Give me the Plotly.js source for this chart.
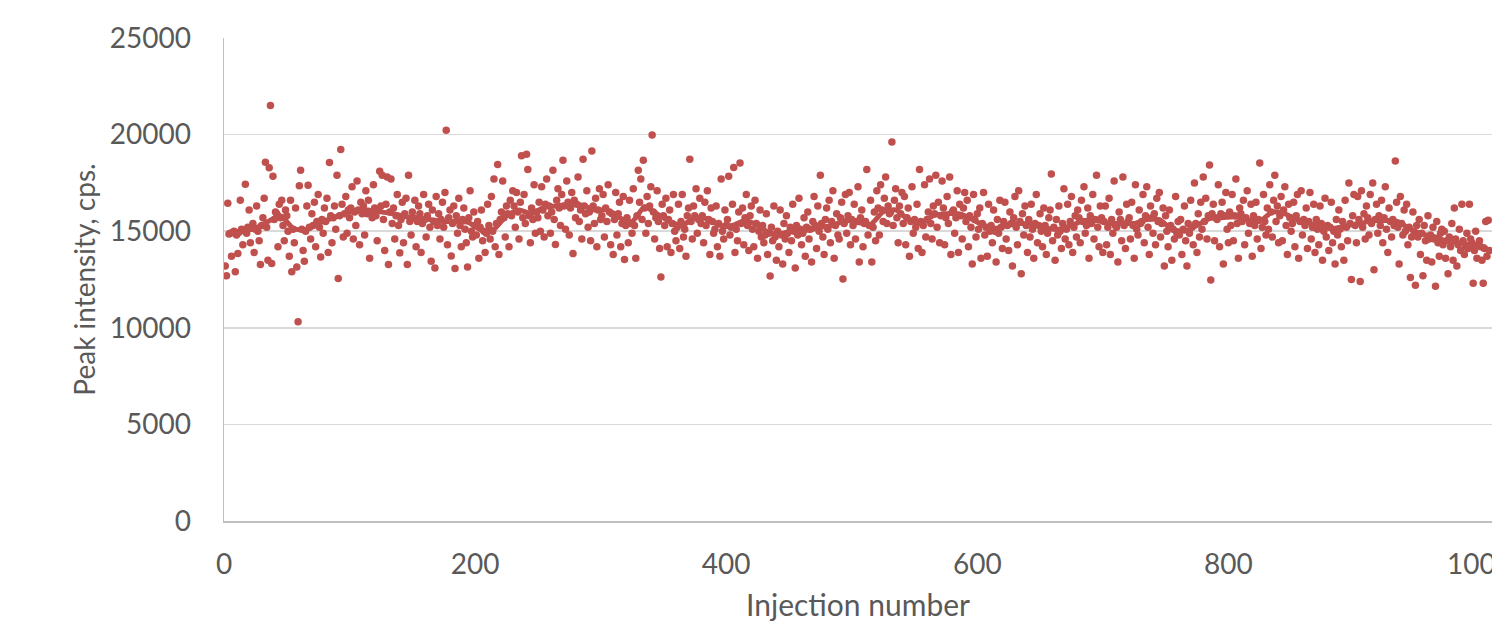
<!DOCTYPE html>
<html>
<head>
<meta charset="utf-8">
<script src="https://cdn.plot.ly/plotly-3.0.1.min.js"></script>
<style>html,body{margin:0;padding:0;background:#fff;overflow:hidden}#chart{width:1492px;height:622px}</style>
</head>
<body>
<div id="chart"></div>
<script>
// Peak intensity (cps) per injection, injections 1..N
const peakIntensity = [
13200,12690,16450,14850,14900,13700,14950,15000,12900,14800,
13850,14950,16600,15100,14300,15050,17430,14900,15200,16100,
14400,15200,15400,13900,15100,16300,15000,14500,13280,15300,
15700,16700,18570,15200,13500,18280,21500,13330,17850,15600,
16000,15900,14200,16400,15700,16600,15300,14500,16100,15800,
15000,13700,16600,12900,15100,14400,16200,13150,10310,17350,
18160,15100,14000,13450,15000,16300,17380,15200,14600,15900,
15300,16500,14200,15500,16900,15200,13670,15600,14900,16200,
15500,16700,13900,18550,15800,14400,15700,16300,15100,17900,
12550,15800,19230,16400,14700,15900,16800,14900,16100,15700,
16200,17300,14600,16000,15300,17600,16100,14300,16500,15900,
16300,14800,17100,15900,16600,13600,16000,15700,17400,16200,
15800,14500,16100,18100,16300,17900,15600,14000,16400,17800,
13280,16000,17700,15400,16200,14600,15800,16900,15300,13880,
15600,16500,14400,15900,16700,13280,17900,15500,14800,16000,
15700,16600,14200,15500,16300,15900,13900,15400,16900,15600,
14700,15800,16400,15200,13450,16100,15500,13100,16800,15300,
15900,14600,15600,16500,15200,17000,20230,14300,15700,16100,
13720,15400,16300,13070,15800,14900,16700,15300,14200,15600,
16200,15100,14400,13150,15700,17100,15000,14700,16000,15300,
14800,15500,13600,15200,16100,14500,15000,13900,14900,16400,
15300,14600,16800,15000,17700,14200,15400,18450,13800,15600,
16000,17600,15700,14700,16300,15900,14200,16600,15800,17100,
16300,15200,17000,16000,14600,16500,18900,15700,16900,15400,
18980,18190,15800,14400,16200,15600,17400,14900,16000,15700,
16500,15000,17300,16100,14700,16400,17700,15800,16300,14900,
16000,18160,15600,14310,16600,17200,16200,15300,16900,18670,
16300,15100,17600,16500,14800,16200,17000,13840,16600,15700,
16400,17800,15500,16100,14600,18720,16300,15900,17100,15200,
16000,14500,19150,16300,15400,16700,14200,16100,17200,15600,
15800,16900,14700,16200,15500,17400,16000,14300,15900,13790,
15600,17000,14800,15900,16500,14200,15400,16800,13530,15300,
15700,14400,16600,15400,14900,17200,15300,13600,15800,18160,
16500,17700,15600,18670,16200,14900,16800,15400,16300,17300,
19980,16000,14600,15700,17100,15500,14100,12630,16400,15800,
15300,16700,14200,15600,16100,13900,15400,16900,15000,14500,
15200,16400,14100,15500,16900,14700,15100,13700,15800,16200,
18720,15500,14600,16300,15800,17200,14900,15600,16700,15400,
15800,14400,16500,15300,17100,15600,13800,16200,15500,14900,
15100,16300,14200,15400,13700,17700,15000,14600,16100,15300,
15600,17850,14800,15200,16400,18300,13900,15100,14500,16000,
18530,15400,16200,14300,15700,16900,15300,14000,15800,16300,
15100,14200,16600,15400,13600,15000,16100,14700,15300,14400,
14800,15900,13800,14900,12680,15200,14500,16300,14700,13500,
15000,14200,16100,14800,13300,15400,14600,15800,14900,13900,
15200,14500,16400,15000,13100,15300,14800,16700,15100,14300,
14900,15700,13700,15200,16000,14600,15100,13400,15500,16800,
15300,14100,16300,15000,17900,15400,14700,13800,15600,16200,
15100,16600,14400,15500,17100,13600,15300,15900,14800,14600,
15700,16500,12530,15400,16900,14900,15800,17000,14300,15600,
15300,16400,14600,15500,17300,13400,15700,16100,14200,15400,
15500,18200,14800,15300,16600,13400,15200,16000,14500,17100,
16200,14800,17400,16100,15500,16700,17800,15400,16300,15900,
16000,19620,15300,16600,17200,15700,14400,16300,15900,17000,
15400,16800,14300,15700,16200,13700,15500,17300,14900,15600,
15200,16400,14100,18200,15500,13900,15300,17400,14700,15600,
16000,17700,15400,14600,16300,15900,17900,15200,16500,14400,
15800,17600,16200,14300,15700,16800,15400,17800,13800,16000,
16100,14900,15700,17100,13900,16400,15800,14600,16200,17000,
15500,16600,14200,15800,15200,13300,16900,15600,14700,15900,
15100,16200,13600,15400,17000,14800,15200,13700,16400,15000,
15300,14400,16100,15000,13400,15600,14900,16600,15200,14100,
15500,16500,14600,15300,14000,16000,15400,13200,15700,16800,
15200,14300,17100,15500,12800,15900,14800,16300,15300,13900,
15600,14700,16400,15100,13600,15400,16900,14400,15300,15900,
15000,14200,16200,15300,13800,14900,15700,16100,17960,14500,
15200,13500,15600,14800,16300,15000,14100,15400,17200,14600,
15100,16400,14300,15500,16800,13900,15200,15800,14700,16100,
15700,14400,16600,15500,17300,14900,15300,16200,13600,15800,
15400,16900,14600,15600,17900,15200,14200,16300,15700,13900,
15500,16300,14300,15200,16700,13800,15600,14900,17600,15300,
15200,13400,16000,15600,14500,17800,15300,14100,16400,15500,
15700,14600,16500,15300,13600,17400,15100,14800,16100,15400,
15500,16900,14400,15800,17300,15200,13800,16300,15700,14900,
15900,14300,16700,15500,17000,14700,15400,16200,13200,15800,
15000,14200,16100,15300,13500,15100,14600,16800,14900,15500,
14800,15600,13800,15100,16300,14500,13200,15400,14900,16600,
15200,14300,17500,15400,13900,15900,14700,16500,15100,17800,
15500,16700,14600,15800,18430,12470,15900,16400,14500,15700,
15600,17400,14200,15900,16500,13300,15800,17000,15100,14400,
16000,15300,16900,14500,15800,17700,15400,13600,16200,15900,
15500,16600,14300,15700,17100,14900,15400,16400,13700,15800,
15300,16500,14600,15600,18530,14100,15200,16900,15500,14800,
16200,15100,17400,16000,14700,16600,17900,15500,16300,14400,
15800,16800,14500,16100,17300,15300,13800,16400,15700,15000,
15400,16500,14200,15800,16900,13600,15500,17100,14800,15600,
15300,16200,14100,15500,17000,14600,15200,16400,13900,15600,
15100,14300,16300,15400,13500,15000,16700,14700,15300,14000,
15200,16500,14400,15000,13300,15600,14800,16100,15100,14200,
15500,13500,16600,15200,14500,17500,15400,12500,15800,16900,
15300,14400,16800,15600,12400,17100,15200,15900,14600,16300,
15700,14800,16900,15400,17500,13000,15600,16400,14900,15800,
15300,16600,14400,15700,17300,15100,13900,16200,15500,14700,
15600,15300,18630,16500,15200,13300,16800,15400,14800,16100,
15000,16400,14300,15200,12600,14700,16000,14900,12200,15300,
14700,15600,13800,14900,12700,15300,14500,13500,15800,14600,
14800,13400,15200,14600,12150,15500,14400,13700,14900,15100,
14300,15000,13600,14500,12800,14700,14200,15400,13500,16200,
14600,13200,14300,15100,14000,16400,14500,13800,14200,14900,
14100,16400,14600,14400,12300,14000,15000,13600,14300,14500,
14200,13500,12300,14100,15500,13700,15570,14000
];

// Moving-average trend, one value per 10 injections (centres 5, 15, ...)
const movingAverage = [
14900,15000,15150,15500,15800,15150,15050,15400,15650,15900,
16100,16100,16000,15900,15750,15650,15600,15500,15500,15450,
15050,15100,15800,16100,15900,16250,16300,16400,16350,16100,
16100,15700,15500,16250,15900,15500,15300,15700,15650,15300,
15300,15550,15300,14900,14900,15050,15050,15200,15300,15550,
15450,15350,16000,16100,15600,15400,15800,15900,15900,15650,
15300,15150,15350,15400,15350,15150,15100,15300,15550,15550,
15400,15400,15400,15600,15600,15100,15000,15300,15650,15700,
15750,15600,15500,16000,15900,15600,15400,15200,15150,15300,
15400,15550,15550,15500,15100,14850,14700,14450,14400,14250,
14200
];

const yTickValues = [0, 5000, 10000, 15000, 20000, 25000];
const xTickValues = [0, 200, 400, 600, 800, 1000];

const injection = peakIntensity.map((v, i) => i + 1);
const maInjection = movingAverage.map((v, i) => i * 10 + 5);

const red = '#C0504D';
const textColor = '#595959';
const fontFamily = 'Lato, "Open Sans", sans-serif';

const traces = [
  {
    type: 'scatter', mode: 'markers',
    x: injection, y: peakIntensity,
    marker: { color: red, size: 7.5, line: { width: 0 } },
    hoverinfo: 'x+y', showlegend: false
  },
  {
    type: 'scatter', mode: 'lines',
    x: maInjection, y: movingAverage,
    line: { color: red, width: 5, shape: 'spline', smoothing: 0.6 },
    hoverinfo: 'skip', showlegend: false
  }
];

const layout = {
  width: 1492, height: 622,
  margin: { l: 224, r: 0, t: 38, b: 101, pad: 0 },
  paper_bgcolor: '#ffffff', plot_bgcolor: '#ffffff',
  font: { family: fontFamily, color: textColor, size: 28 },
  showlegend: false,
  xaxis: {
    range: [0, 1010],
    tickvals: xTickValues,
    ticktext: xTickValues.map(String),
    showgrid: false, zeroline: false,
    showline: true, linecolor: '#BFBFBF', linewidth: 1.5,
    ticks: '', ticklabelstandoff: 18,
    ticklabeloverflow: 'allow',
    tickfont: { family: fontFamily, size: 28, color: textColor },
    title: { text: 'Injection number', font: { family: fontFamily, size: 30, color: textColor }, standoff: 25 }
  },
  yaxis: {
    range: [0, 25000],
    tickvals: yTickValues,
    ticktext: yTickValues.map(String),
    showgrid: true, gridcolor: '#D9D9D9', gridwidth: 1.5,
    zeroline: false,
    showline: true, linecolor: '#BFBFBF', linewidth: 1.5,
    ticks: '', ticklabelstandoff: 26,
    tickfont: { family: fontFamily, size: 28, color: textColor },
    title: { text: 'Peak intensity, cps.', font: { family: fontFamily, size: 28, color: textColor }, standoff: 6 }
  }
};

Plotly.newPlot('chart', traces, layout, { staticPlot: true, displayModeBar: false });
</script>
</body>
</html>
